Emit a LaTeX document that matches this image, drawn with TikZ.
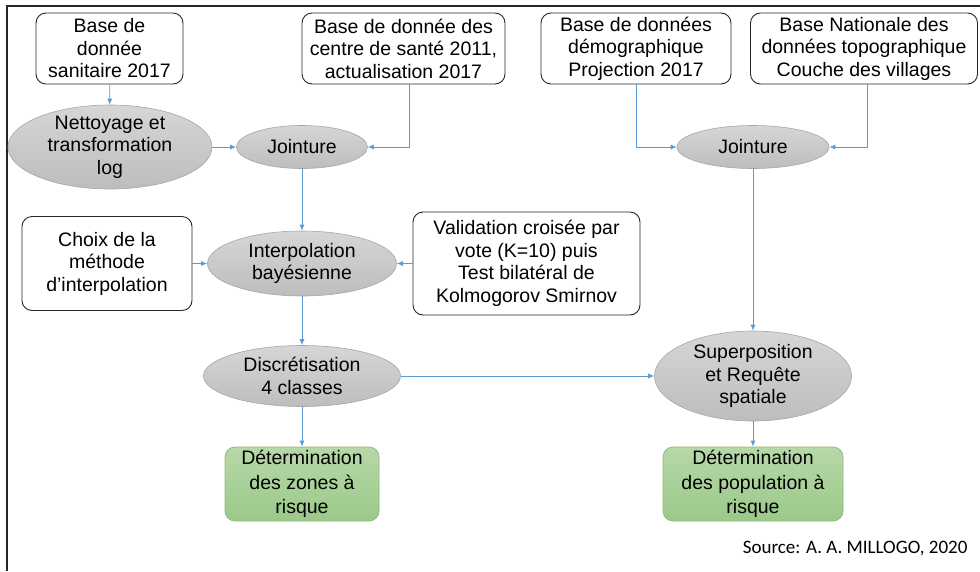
\documentclass[tikz,border=0pt]{standalone}
\usepackage{fontspec}
\setmainfont{Liberation Sans}
\newfontfamily\srcfont{Carlito}
\usetikzlibrary{shapes.geometric,arrows.meta}
\definecolor{arrblue}{HTML}{5B9BD5}
\definecolor{grtop}{HTML}{B7D8A8}
\definecolor{grbot}{HTML}{9BC98A}
\definecolor{grborder}{HTML}{8DBD78}
\definecolor{eltop}{HTML}{D6D6D6}
\definecolor{elbot}{HTML}{BDBDBD}
\definecolor{elborder}{HTML}{A6A6A6}
\tikzset{
  txt/.style={align=center, font=\fontsize{19.5}{22.5}\selectfont, text=black},
  databox/.style={draw=black!85, line width=0.9pt, rounded corners=10pt, fill=white, inner sep=0pt, txt},
  ell/.style={ellipse, draw=elborder, line width=0.6pt, top color=eltop, bottom color=elbot, inner sep=0pt},
  greenbox/.style={draw=grborder, line width=0.8pt, rounded corners=10pt, top color=grtop, bottom color=grbot, inner sep=0pt, align=center, font=\fontsize{19.5}{24.5}\selectfont},
  arr/.style={draw=arrblue, line width=0.8pt, -{Latex[length=6pt,width=5pt]}},
}
\begin{document}
\begin{tikzpicture}[x=1pt,y=-1pt]
\useasboundingbox (0,0) rectangle (980,571);
\draw[line width=2.2pt, black!85] (7,571) -- (7,6) -- (980,6);

% data boxes
\node[databox, minimum width=147, minimum height=71] (A) at (109.5,48.5) {Base de\\donnée\\sanitaire 2017};
\node[databox, minimum width=203, minimum height=71] (B) at (403.5,48.5) {Base de donnée des\\centre de santé 2011,\\actualisation 2017};
\node[databox, minimum width=190, minimum height=71] (C) at (636,48.5) {Base de données\\démographique\\Projection 2017};
\node[databox, minimum width=227, minimum height=71] (D) at (864,48.5) {Base Nationale des\\données topographique\\Couche des villages};
\node[databox, minimum width=170, minimum height=94] (Ch) at (107,263.5) {Choix de la\\méthode\\d’interpolation};
\node[databox, minimum width=227, minimum height=103] (V) at (526.5,263.5) {Validation croisée par\\vote (K=10) puis\\Test bilatéral de\\Kolmogorov Smirnov};

% ellipses
\node[ell, minimum width=204, minimum height=84, label={[txt]center:Nettoyage et\\transformation\\log}] (N) at (110,147) {};
\node[ell, minimum width=131, minimum height=43, label={[txt]center:Jointure}] (J1) at (302,147) {};
\node[ell, minimum width=152, minimum height=43, label={[txt]center:Jointure}] (J2) at (753,147) {};
\node[ell, minimum width=189, minimum height=65, label={[txt]center:Interpolation\\bayésienne}] (I) at (302,263.5) {};
\node[ell, minimum width=197, minimum height=61, label={[txt]center:Discrétisation\\4 classes}] (Ds) at (302,376) {};
\node[ell, minimum width=197, minimum height=90, label={[txt]center:Superposition\\et Requête\\spatiale}] (S) at (753,376) {};

% result boxes
\node[greenbox, minimum width=154, minimum height=74] (G1) at (302,484) {Détermination\\des zones à\\risque};
\node[greenbox, minimum width=180, minimum height=74] (G2) at (753,484) {Détermination\\des population à\\risque};

\node[anchor=east, font=\srcfont\fontsize{19}{22}\selectfont] (src) at (971,549) {Source: A. A. MILLOGO, 2020};

% connectors
\draw[arr] (A) -- (N);
\draw[arr] (N) -- (J1);
\draw[arr] ([xshift=5.5pt]B.south) |- (J1.east);
\draw[arr] (C.south) |- (J2.west);
\draw[arr] ([xshift=3pt]D.south) |- (J2.east);
\draw[arr] (J1) -- (I);
\draw[arr] (Ch) -- (I);
\draw[arr] (V) -- (I);
\draw[arr] (I) -- (Ds);
\draw[arr] (Ds) -- (S);
\draw[arr] (J2) -- (S);
\draw[arr] (Ds) -- (G1);
\draw[arr] (S) -- (G2);
\end{tikzpicture}
\end{document}
